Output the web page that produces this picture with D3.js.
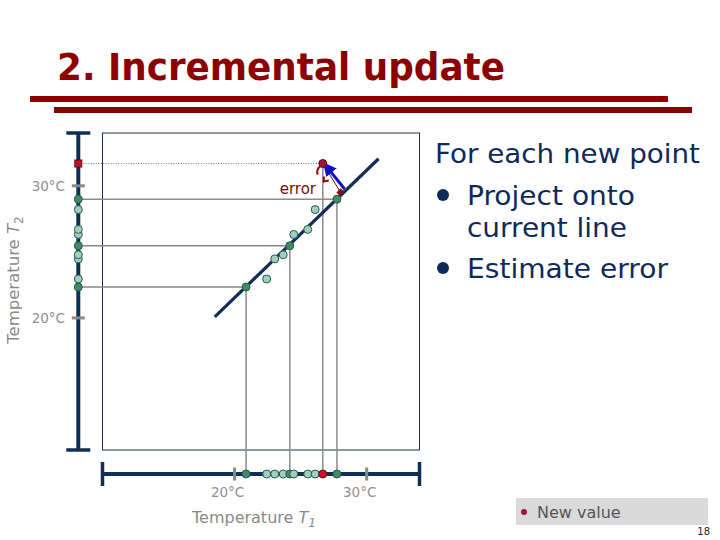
<!DOCTYPE html>
<html><head><meta charset="utf-8">
<script src="https://cdn.jsdelivr.net/npm/d3@7"></script>
<style>body{margin:0;background:#fff}svg{display:block}</style>
</head><body>
<svg id="c" width="720" height="540"></svg>
<script>
// ---- data ----
const titleText = "2. Incremental update";
const bulletHeader = "For each new point";
const bulletItems = [["Project onto", "current line"], ["Estimate error"]];
const tickValues = [20, 30];
const tickLabels = ["20\u00B0C", "30\u00B0C"];
const axisDomain = [10, 34];
const pointT1 = [20.87, 22.43, 23.04, 23.68, 24.18, 24.48, 25.54, 26.10, 27.75];
const pointT2 = [22.34, 22.95, 24.47, 24.78, 25.46, 26.32, 26.70, 28.20, 28.99];
const pointOnLine = [true, false, false, false, true, false, false, false, true];
const newT1 = 26.68, newT2 = 31.69;
const lineT1 = [18.5, 30.9];
const lineT2 = [20.08, 32.05];
const footT1 = 28.03, footT2 = 29.50;
const arrowT1 = [28.33, 26.89];
const arrowT2 = [29.76, 31.55];
const legendLabel = "New value";
const pageNumber = "18";

// ---- drawing ----
const svg = d3.select("#c");
const navy = "#0f2f55", grey = "#8a8a8a", darkRed = "#8e0a0a";
const x = d3.scaleLinear().domain(axisDomain).range([102.5, 419.5]);
const y = d3.scaleLinear().domain(axisDomain).range([450, 133]);
const yAxisX = 78.3, xAxisY = 474;

// title
svg.append("text").attr("x", 57).attr("y", 80).text(titleText)
  .attr("font-family", "'DejaVu Sans Condensed','DejaVu Sans',sans-serif")
  .attr("font-weight", "bold").attr("font-size", 37).attr("fill", "#8c0000")
  .attr("textLength", 448).attr("lengthAdjust", "spacingAndGlyphs");
svg.append("rect").attr("x", 30).attr("y", 96).attr("width", 638).attr("height", 6).attr("fill", "#8c0000");
svg.append("rect").attr("x", 54).attr("y", 107).attr("width", 638).attr("height", 6).attr("fill", "#8c0000");

// plot box
svg.append("rect").attr("x", x(axisDomain[0])).attr("y", y(axisDomain[1]))
  .attr("width", x(axisDomain[1]) - x(axisDomain[0])).attr("height", y(axisDomain[0]) - y(axisDomain[1]))
  .attr("fill", "none").attr("stroke", "#1a3050").attr("stroke-width", 1);

const pts = pointT1.map((t, i) => ({t1: t, t2: pointT2[i], on: pointOnLine[i]}));
const onPts = pts.filter(d => d.on);

// projection lines
const g = svg.append("g");
g.selectAll(".h").data(onPts).enter().append("line")
  .attr("x1", yAxisX).attr("x2", d => x(d.t1)).attr("y1", d => y(d.t2)).attr("y2", d => y(d.t2))
  .attr("stroke", grey).attr("stroke-width", 1.5);
g.selectAll(".v").data(onPts.concat([{t1: newT1, t2: newT2}])).enter().append("line")
  .attr("x1", d => x(d.t1)).attr("x2", d => x(d.t1)).attr("y1", d => y(d.t2)).attr("y2", xAxisY)
  .attr("stroke", grey).attr("stroke-width", 1.5);
g.append("line").attr("x1", yAxisX).attr("x2", x(newT1)).attr("y1", y(newT2)).attr("y2", y(newT2))
  .attr("stroke", "#777").attr("stroke-width", 1).attr("stroke-dasharray", "1,1.5");

// axes
svg.append("line").attr("x1", yAxisX).attr("x2", yAxisX).attr("y1", y(axisDomain[1])).attr("y2", y(axisDomain[0]))
  .attr("stroke", navy).attr("stroke-width", 4);
[axisDomain[0], axisDomain[1]].forEach(v => svg.append("line").attr("x1", yAxisX - 12).attr("x2", yAxisX + 12)
  .attr("y1", y(v)).attr("y2", y(v)).attr("stroke", navy).attr("stroke-width", 3.5));
svg.append("line").attr("y1", xAxisY).attr("y2", xAxisY).attr("x1", x(axisDomain[0])).attr("x2", x(axisDomain[1]))
  .attr("stroke", navy).attr("stroke-width", 4);
[axisDomain[0], axisDomain[1]].forEach(v => svg.append("line").attr("y1", xAxisY - 12).attr("y2", xAxisY + 12)
  .attr("x1", x(v)).attr("x2", x(v)).attr("stroke", navy).attr("stroke-width", 3.5));

// ticks
tickValues.forEach((v, i) => {
  svg.append("line").attr("x1", yAxisX - 6.5).attr("x2", yAxisX + 6.5).attr("y1", y(v)).attr("y2", y(v))
    .attr("stroke", grey).attr("stroke-width", 3);
  svg.append("text").attr("x", 65).attr("y", y(v) + 5).attr("text-anchor", "end").text(tickLabels[i])
    .attr("font-family", "'DejaVu Sans',sans-serif").attr("font-size", 13.5).attr("fill", "#909090");
  svg.append("line").attr("y1", xAxisY - 6.5).attr("y2", xAxisY + 6.5).attr("x1", x(v)).attr("x2", x(v))
    .attr("stroke", grey).attr("stroke-width", 3);
  svg.append("text").attr("x", x(v) - 7).attr("y", 497).attr("text-anchor", "middle").text(tickLabels[i])
    .attr("font-family", "'DejaVu Sans',sans-serif").attr("font-size", 13.5).attr("fill", "#909090");
});

// axis titles
const yt = svg.append("text").attr("transform", "translate(19,280) rotate(-90)").attr("text-anchor", "middle")
  .attr("font-family", "'DejaVu Sans',sans-serif").attr("font-size", 16.5).attr("fill", "#8a8a8a");
yt.append("tspan").text("Temperature ");
yt.append("tspan").attr("font-style", "italic").text("T");
yt.append("tspan").attr("font-size", 12).attr("dy", 4).text("2");
const xt = svg.append("text").attr("x", 192).attr("y", 523)
  .attr("font-family", "'DejaVu Sans',sans-serif").attr("font-size", 16).attr("fill", "#8a8a8a");
xt.append("tspan").text("Temperature ");
xt.append("tspan").attr("font-style", "italic").text("T");
xt.append("tspan").attr("font-size", 12).attr("dy", 4).attr("font-style", "italic").text("1");

// fitted line
svg.append("line").attr("x1", x(lineT1[0])).attr("y1", y(lineT2[0])).attr("x2", x(lineT1[1])).attr("y2", y(lineT2[1]))
  .attr("stroke", navy).attr("stroke-width", 3.2);

// error annotation
const rx = x(newT1), ry = y(newT2), fx = x(footT1), fy = y(footT2);
svg.append("line").attr("x1", rx).attr("y1", ry).attr("x2", fx).attr("y2", fy)
  .attr("stroke", "#5a1010").attr("stroke-width", 1);
svg.append("rect").attr("x", fx - 3).attr("y", fy - 3).attr("width", 6).attr("height", 5)
  .attr("fill", darkRed).attr("transform", `rotate(-45,${fx},${fy})`);
svg.append("path").attr("d", `M${rx - 3},${ry + 3} Q${rx - 7},${ry + 7} ${rx - 5},${ry + 11}`)
  .attr("fill", "none").attr("stroke", darkRed).attr("stroke-width", 2);
svg.append("path").attr("d", `M${rx + 1},${ry + 13} L${rx + 1},${ry + 18} L${rx + 6},${ry + 17}`)
  .attr("fill", "none").attr("stroke", darkRed).attr("stroke-width", 2);
svg.append("text").attr("x", 316).attr("y", 194).attr("text-anchor", "end").text("error")
  .attr("font-family", "'DejaVu Sans',sans-serif").attr("font-size", 15).attr("fill", "#6a1010");
const defs = svg.append("defs");
defs.append("marker").attr("id", "ah").attr("viewBox", "0 0 10 10").attr("refX", 7).attr("refY", 5)
  .attr("markerWidth", 4.5).attr("markerHeight", 4.5).attr("orient", "auto")
  .append("path").attr("d", "M0,0 L10,5 L0,10 z").attr("fill", "#1010c8");
svg.append("line").attr("x1", x(arrowT1[0])).attr("y1", y(arrowT2[0])).attr("x2", x(arrowT1[1])).attr("y2", y(arrowT2[1]))
  .attr("stroke", "#1010c8").attr("stroke-width", 3).attr("marker-end", "url(#ah)");

// points
const fillFor = d => d.on ? "#3f8c5e" : "#9fd0b8";
svg.selectAll(".p").data(pts).enter().append("circle")
  .attr("cx", d => x(d.t1)).attr("cy", d => y(d.t2)).attr("r", 4)
  .attr("fill", fillFor).attr("stroke", "#2a5656").attr("stroke-width", 1);
svg.selectAll(".px").data(pts).enter().append("circle")
  .attr("cx", d => x(d.t1)).attr("cy", xAxisY).attr("r", 4)
  .attr("fill", fillFor).attr("stroke", "#2a5656").attr("stroke-width", 1);
svg.selectAll(".py").data(pts).enter().append("circle")
  .attr("cx", yAxisX).attr("cy", d => y(d.t2)).attr("r", 4)
  .attr("fill", fillFor).attr("stroke", "#2a5656").attr("stroke-width", 1);
svg.append("circle").attr("cx", rx).attr("cy", ry).attr("r", 4)
  .attr("fill", "#a0143c").attr("stroke", "#5a0a20").attr("stroke-width", 1);
svg.append("circle").attr("cx", rx).attr("cy", xAxisY).attr("r", 4)
  .attr("fill", "#d0102a").attr("stroke", "#6a0a15").attr("stroke-width", 1);
svg.append("rect").attr("x", yAxisX - 3.5).attr("y", ry - 3.5).attr("width", 7).attr("height", 7)
  .attr("fill", "#c8102e").attr("stroke", "#6a0a15").attr("stroke-width", 1);

// bullet text
const tf = "'DejaVu Sans',sans-serif", tc = "#0d2a5a";
svg.append("text").attr("x", 435).attr("y", 163).text(bulletHeader)
  .attr("font-family", tf).attr("font-size", 27).attr("fill", tc)
  .attr("textLength", 265).attr("lengthAdjust", "spacingAndGlyphs");
const itemY = [205, 278];
const widths = [[168, 160], [201]];
bulletItems.forEach((lines, i) => {
  svg.append("circle").attr("cx", 443).attr("cy", itemY[i] - 10).attr("r", 6).attr("fill", tc);
  lines.forEach((l, j) => svg.append("text").attr("x", 467).attr("y", itemY[i] + j * 32).text(l)
    .attr("font-family", tf).attr("font-size", 27).attr("fill", tc)
    .attr("textLength", widths[i][j]).attr("lengthAdjust", "spacingAndGlyphs"));
});

// legend
svg.append("rect").attr("x", 516).attr("y", 498).attr("width", 192).attr("height", 27).attr("fill", "#dadada");
svg.append("circle").attr("cx", 524).attr("cy", 512).attr("r", 3).attr("fill", "#a01030");
svg.append("text").attr("x", 537).attr("y", 518).text(legendLabel)
  .attr("font-family", tf).attr("font-size", 16).attr("fill", "#555");
svg.append("text").attr("x", 710).attr("y", 535).attr("text-anchor", "end").text(pageNumber)
  .attr("font-family", tf).attr("font-size", 10).attr("fill", "#222");
</script>
</body></html>
